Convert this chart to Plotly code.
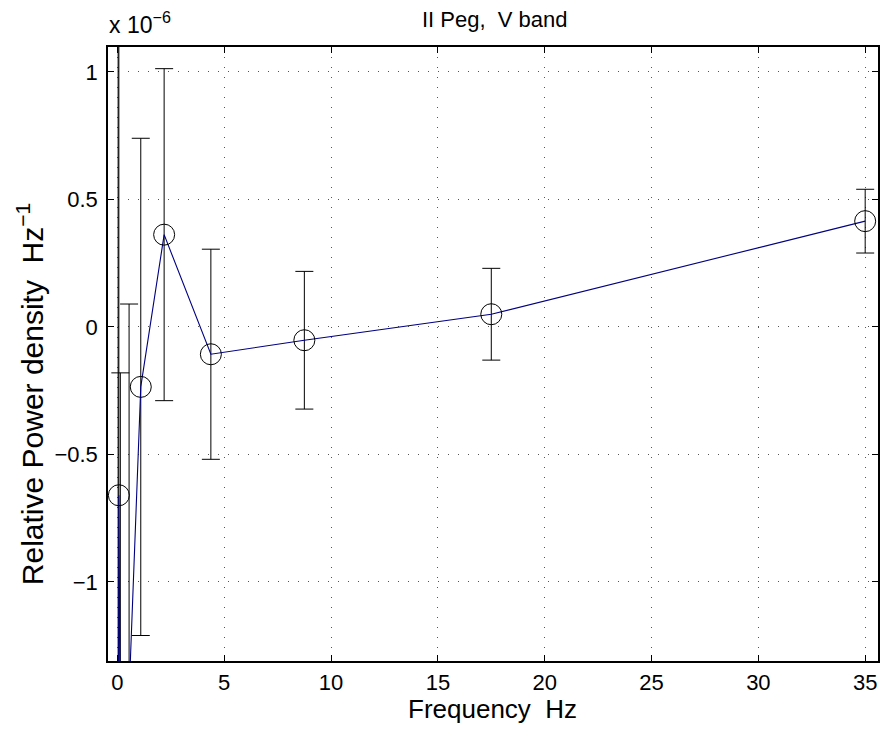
import plotly.graph_objects as go

# Frequency (Hz), relative power density (units of 1e-6 Hz^-1), and symmetric errors
freq = [0.0342, 0.0684, 0.137, 0.273, 0.547, 1.094, 2.1875, 4.375, 8.75, 17.5, 35.0]
power = [-2.5, -0.66, -1.60, -3.0, -1.44, -0.235, 0.362, -0.107, -0.052, 0.05, 0.415]
err = [4.0, 2.5, 1.42, 1.4, 1.53, 0.975, 0.651, 0.412, 0.27, 0.18, 0.125]

xticks = [0, 5, 10, 15, 20, 25, 30, 35]
yticks = [-1, -0.5, 0, 0.5, 1]

FONT = "Liberation Sans, Arial, Helvetica, sans-serif"

L, R, T, B = 108, 880, 47, 661
W, H = 889, 731

def px(x):
    return (x - L) / (R - L)

def py(y):
    return (B - y) / (B - T)

fig = go.Figure()
fig.add_trace(go.Scatter(
    x=freq, y=power,
    mode="lines+markers",
    line=dict(color="#000080", width=1.1),
    marker=dict(symbol="circle-open", size=21, color="black", line=dict(width=1, color="black")),
    error_y=dict(type="data", array=err, visible=True, color="black", thickness=1, width=9),
    showlegend=False,
))

axis_common = dict(
    showline=True, linecolor="black", linewidth=1.5, mirror="ticks",
    ticks="inside", ticklen=6, tickcolor="black", tickwidth=1,
    showgrid=True, gridcolor="#555555", gridwidth=1, griddash="1px,9px",
    zeroline=False,
    tickfont=dict(family=FONT, size=22, color="black"),
)

fig.update_xaxes(range=[-0.44, 35.6], tickvals=xticks, ticklabelstandoff=1, **axis_common)
fig.update_yaxes(range=[-1.31, 1.098], tickvals=yticks, ticklabelstandoff=4, **axis_common)

fig.update_layout(
    width=W, height=H, autosize=False,
    margin=dict(l=L, r=W - R, t=T, b=H - B, pad=0),
    plot_bgcolor="white", paper_bgcolor="white",
    font=dict(family=FONT, color="black"),
    annotations=[
        dict(text="II Peg,\u00a0 V band", x=px(496), y=py(20), xref="paper", yref="paper",
             xanchor="center", yanchor="middle", showarrow=False,
             font=dict(family=FONT, size=22, color="black")),
        dict(text="Frequency\u00a0 Hz", x=px(493), y=py(709), xref="paper", yref="paper",
             xanchor="center", yanchor="middle", showarrow=False,
             font=dict(family=FONT, size=26, color="black")),
        dict(text="Relative Power density\u00a0 Hz<sup>\u22121</sup>", x=px(30), y=py(394),
             xref="paper", yref="paper", xanchor="center", yanchor="middle",
             textangle=-90, showarrow=False,
             font=dict(family=FONT, size=30, color="black")),
        dict(text="x 10<sup>\u22126</sup>", x=px(107), y=py(40), xref="paper", yref="paper",
             xanchor="left", yanchor="bottom", showarrow=False,
             font=dict(family=FONT, size=23, color="black")),
    ],
)

fig.write_html(
    "out.html",
    config={"displayModeBar": False},
    post_script="document.body.style.margin='0';document.body.style.padding='0';",
)
